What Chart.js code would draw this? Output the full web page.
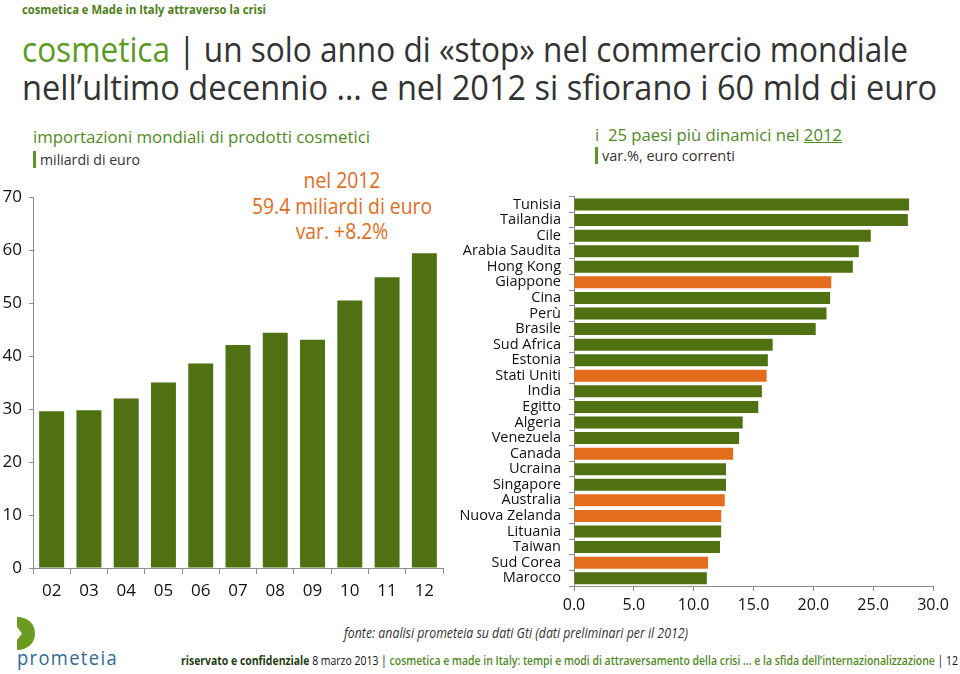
<!DOCTYPE html>
<html lang="it">
<head>
<meta charset="utf-8">
<title>cosmetica | importazioni mondiali</title>
<script src="https://cdn.jsdelivr.net/npm/chart.js"></script>
<style>
  body { margin: 0; width: 960px; height: 674px; position: relative; background: #fff; overflow: hidden;
         font-family: "Open Sans", sans-serif; color: #222; }
  .t { position: absolute; white-space: nowrap; transform-origin: 0 0; line-height: 1; }
  .green { color: #5b9a1e; }
  .bar { display: inline-block; width: 3px; background: #5b9a1e; vertical-align: -3px; margin-right: 4px; }
  canvas { position: absolute; }
</style>
</head>
<body>

<div class="t" id="hdr" style="left:22px; top:3px; font-size:13px; font-weight:700; color:#4d7f1a;" data-w="244">cosmetica e Made in Italy attraverso la crisi</div>

<div class="t" id="title1" style="left:22px; top:31px; font-size:35px; color:#333;" data-w="886"><span class="green">cosmetica</span> | un solo anno di «stop» nel commercio mondiale</div>
<div class="t" id="title2" style="left:22px; top:69px; font-size:35px; color:#333;" data-w="915">nell’ultimo decennio … e nel 2012 si sfiorano i 60 mld di euro</div>

<div class="t" style="left:33px; top:129px; font-size:16px; color:#4f8a1e;" data-w="337">importazioni mondiali di prodotti cosmetici</div>
<div class="t" style="left:33px; top:151px; font-size:14px; color:#333;"><span class="bar" style="height:17px;"></span><span data-w="100">miliardi di euro</span></div>

<div class="t" style="left:242px; top:168px; width:200px; text-align:center; font-size:21px; line-height:25.5px; color:#e36c1d; transform-origin:50% 0; transform:scaleX(0.92);">nel 2012<br>59.4 miliardi di euro<br>var. +8.2%</div>

<div class="t" style="left:595px; top:126px; font-size:17px; color:#4f8a1e;" data-w="247">i&nbsp; 25 paesi più dinamici nel <span style="text-decoration:underline;">2012</span></div>
<div class="t" style="left:595px; top:147px; font-size:14px; color:#333;"><span class="bar" style="height:17px;"></span><span data-w="133">var.%, euro correnti</span></div>

<canvas id="left" width="452" height="430" style="left:0; top:180px;"></canvas>
<canvas id="right" width="505" height="440" style="left:455px; top:180px;"></canvas>

<div class="t" style="left:344px; top:626px; font-size:14px; font-style:italic; color:#333;" data-w="344">fonte: analisi prometeia su dati Gti (dati preliminari per il 2012)</div>

<svg style="position:absolute; left:17px; top:617px;" width="18" height="33" viewBox="0 0 18 33">
  <path d="M0 0 C11 0 18 7 18 16.5 C18 26 11 33 0 33 L0 23 L5 16.5 L0 10 Z" fill="#6a9a1f"/>
</svg>
<div class="t" style="left:17px; top:648px; font-size:20px; letter-spacing:1.5px; color:#2f6b96;" data-w="101">prometeia</div>

<div class="t" style="left:181px; top:654px; font-size:13px; color:#111;" data-w="777"><b style="color:#1f3d12;">riservato e confidenziale</b> 8 marzo 2013 | <b style="color:#4f8a1e; font-weight:600;">cosmetica e made in Italy: tempi e modi di attraversamento della crisi … e la sfida dell’internazionalizzazione</b> | 12</div>

<script>
// importazioni mondiali di prodotti cosmetici (miliardi di euro)
const years = ['02', '03', '04', '05', '06', '07', '08', '09', '10', '11', '12'];
const imports = [29.6, 29.8, 32.0, 35.0, 38.6, 42.1, 44.4, 43.1, 50.5, 54.9, 59.4];

// i 25 paesi più dinamici nel 2012 (var.%, euro correnti)
const countries = ['Tunisia', 'Tailandia', 'Cile', 'Arabia Saudita', 'Hong Kong', 'Giappone', 'Cina', 'Perù',
  'Brasile', 'Sud Africa', 'Estonia', 'Stati Uniti', 'India', 'Egitto', 'Algeria', 'Venezuela', 'Canada',
  'Ucraina', 'Singapore', 'Australia', 'Nuova Zelanda', 'Lituania', 'Taiwan', 'Sud Corea', 'Marocco'];
const growth = [28.0, 27.9, 24.8, 23.8, 23.3, 21.5, 21.4, 21.1, 20.2, 16.6, 16.2, 16.1, 15.7, 15.4, 14.1,
  13.8, 13.3, 12.7, 12.7, 12.6, 12.3, 12.3, 12.2, 11.2, 11.1];
const advanced = ['Giappone', 'Stati Uniti', 'Canada', 'Australia', 'Nuova Zelanda', 'Sud Corea'];

const GREEN = '#4f7111';
const ORANGE = '#e36c1d';
const AXIS = '#8c8c8c';
const FONT = '"Open Sans", sans-serif';

// adatta la larghezza dei testi a quella dell'originale
function fitText() {
  document.querySelectorAll('[data-w]').forEach(el => {
    el.style.display = 'inline-block';
    const w = el.getBoundingClientRect().width;
    el.style.transformOrigin = '0 0';
    el.style.transform = 'scaleX(' + (el.dataset.w / w) + ')';
  });
}

// grafico a colonne
new Chart(document.getElementById('left'), {
  type: 'bar',
  data: {
    labels: years,
    datasets: [{
      data: imports,
      backgroundColor: GREEN,
      categoryPercentage: 1,
      barPercentage: 0.67
    }]
  },
  options: {
    responsive: false,
    animation: false,
    layout: { padding: { top: 10, right: 9, left: 0, bottom: 0 } },
    plugins: { legend: { display: false }, tooltip: { enabled: false } },
    scales: {
      x: {
        grid: { drawOnChartArea: false, tickLength: 6, color: AXIS, offset: true },
        border: { color: AXIS },
        ticks: { color: '#111', font: { size: 17, family: FONT }, padding: 7 },
        afterFit: s => { s.height = 42; }
      },
      y: {
        min: 0,
        max: 70,
        ticks: { stepSize: 10, color: '#111', font: { size: 17, family: FONT }, padding: 7 },
        grid: { drawOnChartArea: false, tickLength: 4, color: AXIS },
        border: { color: AXIS },
        afterFit: s => { s.width = 33; }
      }
    }
  }
});

// grafico a barre orizzontali
new Chart(document.getElementById('right'), {
  type: 'bar',
  data: {
    labels: countries,
    datasets: [{
      data: growth,
      backgroundColor: countries.map(c => advanced.includes(c) ? ORANGE : GREEN),
      categoryPercentage: 1,
      barPercentage: 0.77
    }]
  },
  options: {
    indexAxis: 'y',
    responsive: false,
    animation: false,
    layout: { padding: { top: 14, right: 27, left: 0, bottom: 0 } },
    plugins: { legend: { display: false }, tooltip: { enabled: false } },
    scales: {
      x: {
        min: 0,
        max: 30,
        ticks: { stepSize: 5, color: '#111', font: { size: 16, family: FONT }, padding: 5,
                 callback: v => v.toFixed(1) },
        grid: { drawOnChartArea: false, tickLength: 5, color: AXIS },
        border: { color: AXIS },
        afterFit: s => { s.height = 34; }
      },
      y: {
        ticks: { color: '#111', font: { size: 14.5, family: FONT }, padding: 8, autoSkip: false },
        grid: { drawOnChartArea: false, tickLength: 5, color: AXIS, offset: true },
        border: { color: AXIS },
        afterFit: s => { s.width = 119; }
      }
    }
  }
});

fitText();
</script>
</body>
</html>
